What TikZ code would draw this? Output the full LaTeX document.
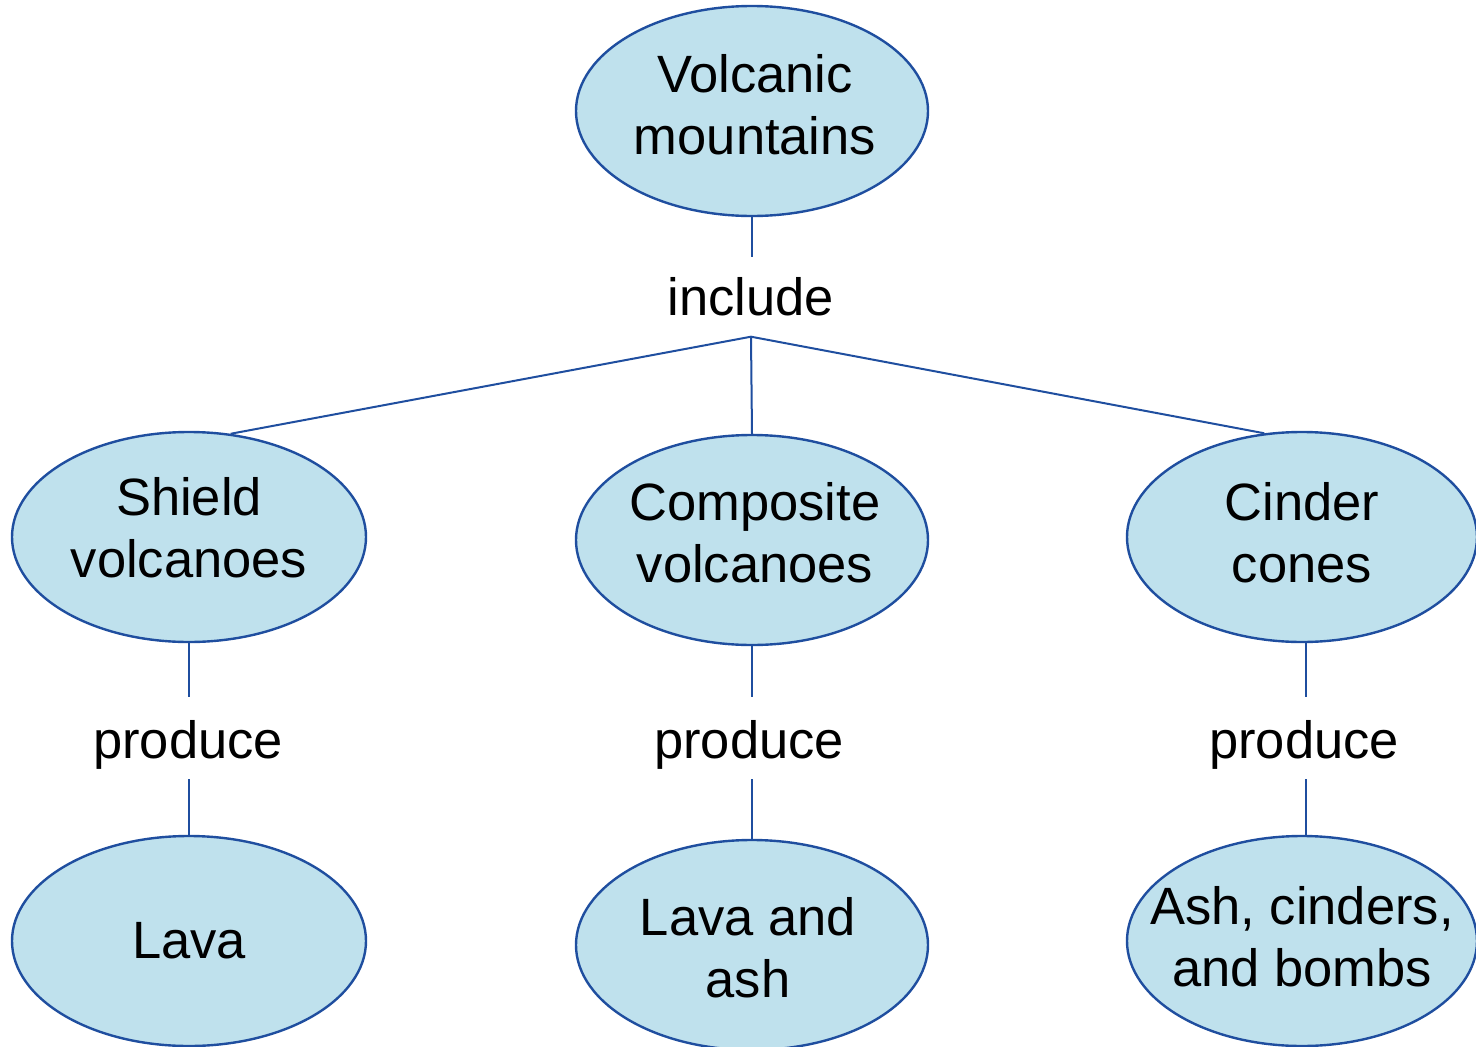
\documentclass[tikz,border=0pt]{standalone}
\usepackage{fontspec}
\setmainfont{Liberation Sans}
\usetikzlibrary{shapes.geometric}
\definecolor{bubfill}{HTML}{BFE1ED}
\definecolor{bubline}{HTML}{1F4E9F}
\tikzset{
  bub/.style={ellipse, draw=bubline, fill=bubfill, line width=2.4pt,
    minimum width=352pt, minimum height=210pt, inner sep=0pt},
  btxt/.style={align=center, font=\fontsize{52.5}{62}\selectfont, inner sep=0pt},
  link/.style={draw=bubline, line width=2pt},
  verb/.style={font=\fontsize{52.5}{62}\selectfont, inner sep=0pt, text height=61.5pt, text depth=20.5pt},
}
\begin{document}
\begin{tikzpicture}[x=1pt,y=-1pt]
\useasboundingbox (0,0) rectangle (1476,1047);
\begin{scope}
\clip (0,0) rectangle (1476,1047);
\node[bub, label={[btxt, yshift=6pt, xshift=3pt]center:Volcanic\\mountains}] (top) at (752,111) {};
\node[bub, minimum width=354pt, label={[btxt, yshift=9pt]center:Shield\\volcanoes}] (shield) at (189,537) {};
\node[bub, label={[btxt, yshift=7pt, xshift=3pt]center:Composite\\volcanoes}] (comp) at (752,540) {};
\node[bub, minimum width=350pt, label={[btxt, yshift=4pt]center:Cinder\\cones}] (cinder) at (1302,537) {};
\node[bub, minimum width=354pt, label={[btxt]center:Lava}] (lava) at (189,941) {};
\node[bub, label={[btxt, yshift=-3pt, xshift=-4pt]center:Lava and\\ash}] (lavaash) at (752,945) {};
\node[bub, minimum width=350pt, label={[btxt, yshift=4pt]center:Ash, cinders,\\and bombs}] (ash) at (1302,941) {};
\end{scope}
\node[font=\fontsize{52.5}{62}\selectfont, inner sep=0pt, minimum height=79pt] (incl) at (751,297) {include};
\node[verb] (p1) at (188,738) {produce};
\node[verb] (p2) at (749,738) {produce};
\node[verb] (p3) at (1304,738) {produce};
\draw[link] (top.south) -- (top.south |- incl.north);
\draw[link] (incl.south) -- (shield.68);
\draw[link] (incl.south) -- (comp.north);
\draw[link] (incl.south) -- (cinder.110);
\draw[link] (shield.south) -- (shield.south |- p1.north);
\draw[link] (lava.north |- p1.south) -- (lava.north);
\draw[link] (comp.south) -- (comp.south |- p2.north);
\draw[link] (lavaash.north |- p2.south) -- (lavaash.north);
\draw[link] ([xshift=4pt]cinder.south) -- ([xshift=4pt]cinder.south |- p3.north);
\draw[link] ([xshift=4pt]ash.north |- p3.south) -- ([xshift=4pt]ash.north);
\end{tikzpicture}
\end{document}
